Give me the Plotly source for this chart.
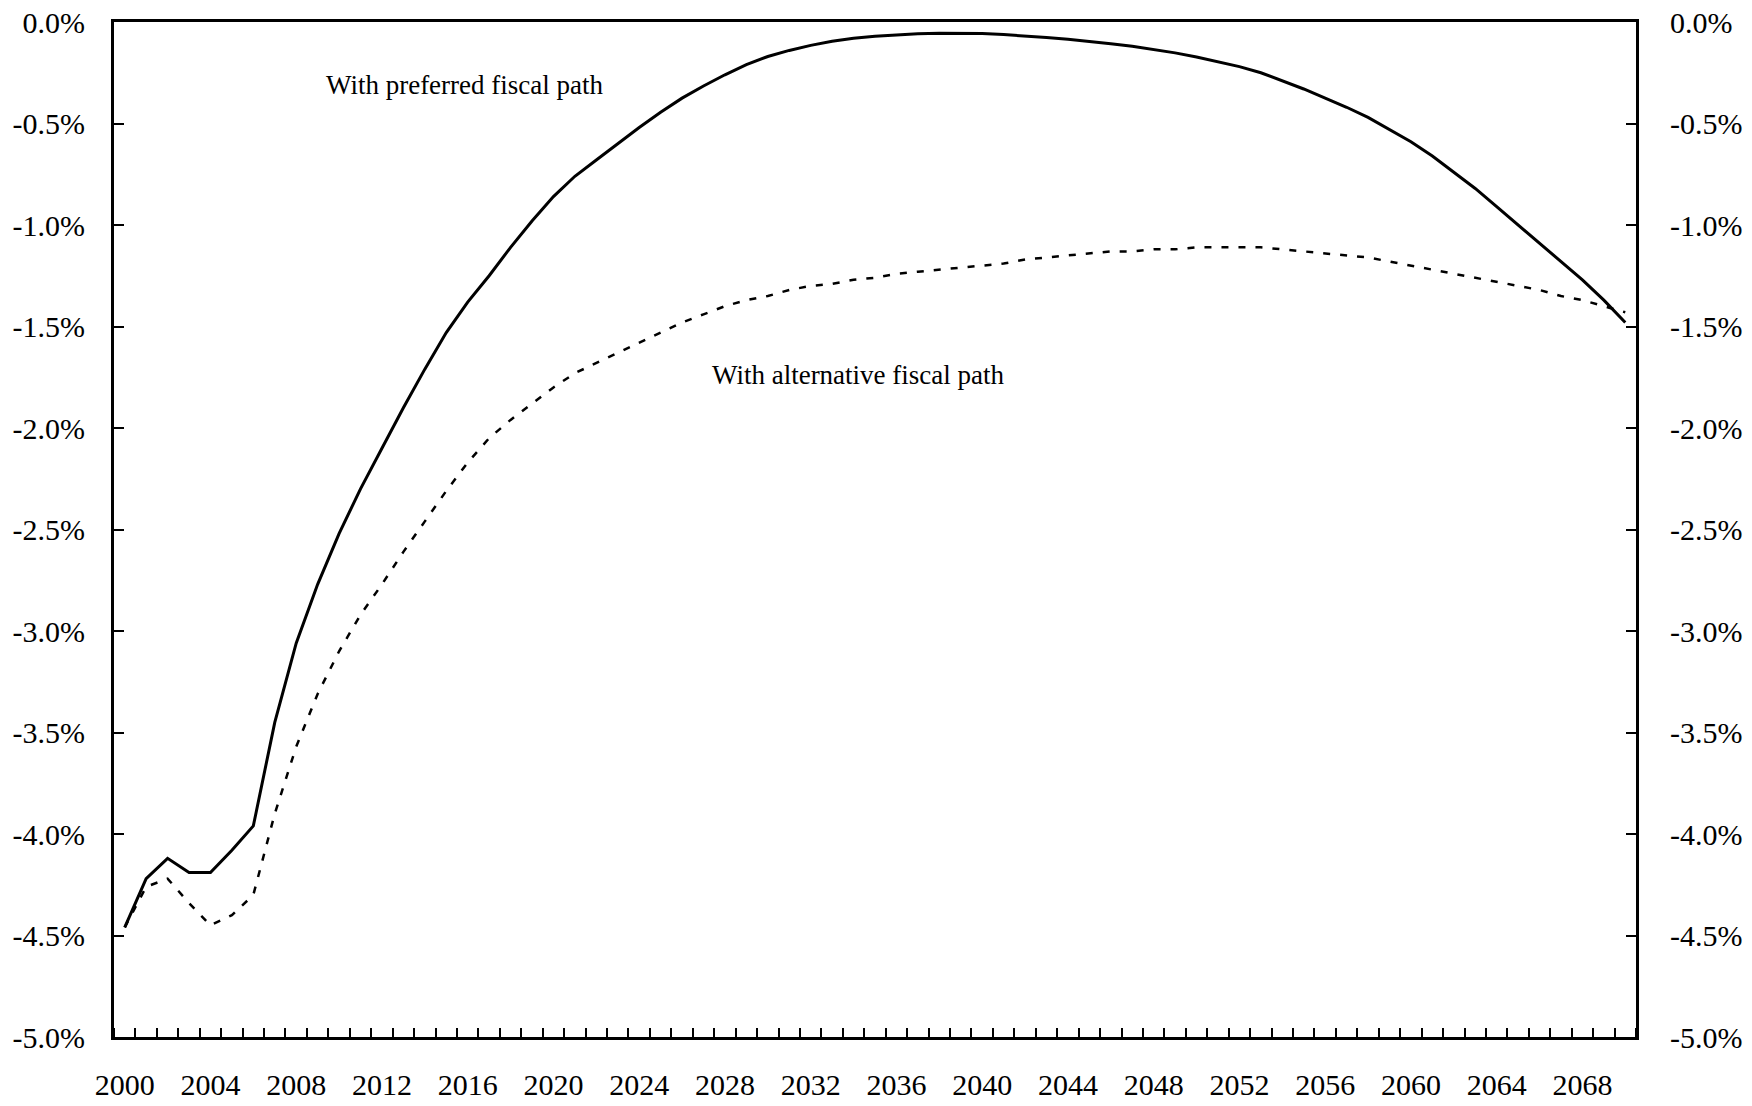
import plotly.graph_objects as go

# Years on the category axis
years = list(range(2000, 2071))

# Percent values, one per year
preferred_path = [
    -4.46, -4.22, -4.12, -4.19, -4.19, -4.08, -3.96, -3.45, -3.06, -2.77,
    -2.52, -2.30, -2.10, -1.90, -1.71, -1.53, -1.38, -1.25, -1.11, -0.98,
    -0.86, -0.76, -0.68, -0.60, -0.52, -0.445, -0.375, -0.315, -0.26, -0.21,
    -0.17, -0.14, -0.115, -0.095, -0.08, -0.07, -0.063, -0.058, -0.055, -0.055,
    -0.057, -0.062, -0.068, -0.076, -0.085, -0.095, -0.107, -0.12, -0.135, -0.152,
    -0.172, -0.195, -0.22, -0.25, -0.29, -0.33, -0.375, -0.42, -0.47, -0.53,
    -0.59, -0.66, -0.74, -0.82, -0.91, -1.00, -1.09, -1.18, -1.27, -1.37,
    -1.48,
]

alternative_path = [
    -4.46, -4.26, -4.22, -4.34, -4.45, -4.40, -4.30, -3.90, -3.57, -3.31,
    -3.10, -2.92, -2.77, -2.61, -2.46, -2.31, -2.17, -2.05, -1.96, -1.88,
    -1.80, -1.73, -1.68, -1.63, -1.58, -1.53, -1.48, -1.44, -1.40, -1.37,
    -1.35, -1.32, -1.30, -1.29, -1.27, -1.26, -1.24, -1.23, -1.22, -1.21,
    -1.20, -1.19, -1.17, -1.16, -1.15, -1.14, -1.13, -1.13, -1.12, -1.12,
    -1.11, -1.11, -1.11, -1.11, -1.12, -1.13, -1.14, -1.15, -1.16, -1.18,
    -1.20, -1.22, -1.24, -1.26, -1.28, -1.30, -1.32, -1.35, -1.37, -1.40,
    -1.43,
]

# Axis labels
x_label_years = list(range(2000, 2069, 4))
y_tick_values = [0.0, -0.5, -1.0, -1.5, -2.0, -2.5, -3.0, -3.5, -4.0, -4.5, -5.0]
y_tick_text = ["0.0%", "-0.5%", "-1.0%", "-1.5%", "-2.0%", "-2.5%",
               "-3.0%", "-3.5%", "-4.0%", "-4.5%", "-5.0%"]

FONT = "Liberation Serif, Times New Roman, serif"

fig = go.Figure()

fig.add_trace(go.Scatter(
    x=years, y=preferred_path, mode="lines",
    line=dict(color="black", width=3),
    name="With preferred fiscal path", hoverinfo="skip",
))
fig.add_trace(go.Scatter(
    x=years, y=alternative_path, mode="lines", yaxis="y2",
    line=dict(color="black", width=2.5, dash="7px,10px"),
    name="With alternative fiscal path", hoverinfo="skip",
))

fig.add_annotation(
    x=2009.3, y=-0.31, xref="x", yref="y", text="With preferred fiscal path",
    showarrow=False, xanchor="left", yanchor="middle",
    font=dict(family=FONT, size=27, color="black"),
)
fig.add_annotation(
    x=2027.3, y=-1.74, xref="x", yref="y", text="With alternative fiscal path",
    showarrow=False, xanchor="left", yanchor="middle",
    font=dict(family=FONT, size=27, color="black"),
)

fig.update_layout(
    width=1752, height=1106,
    margin=dict(l=114, r=116, t=22, b=69),
    paper_bgcolor="white", plot_bgcolor="white",
    showlegend=False,
    font=dict(family=FONT, size=30, color="black"),
    xaxis=dict(
        range=[1999.5, 2070.5], automargin=False,
        tickmode="array", tickvals=x_label_years,
        ticktext=[str(y) for y in x_label_years],
        ticks="", showgrid=False, zeroline=False,
        showline=True, linecolor="black", linewidth=3, mirror=True,
        ticklabelstandoff=19,
        tickfont=dict(family=FONT, size=30, color="black"),
        minor=dict(ticks="inside", tick0=1999.5, dtick=1, ticklen=9,
                   tickwidth=2, tickcolor="black", showgrid=False),
    ),
    yaxis=dict(
        range=[-5.0, 0.0], automargin=False,
        tickmode="array", tickvals=y_tick_values, ticktext=y_tick_text,
        ticks="inside", ticklen=10, tickwidth=2, tickcolor="black",
        showgrid=False, zeroline=False,
        showline=True, linecolor="black", linewidth=3,
        ticklabelstandoff=20,
        tickfont=dict(family=FONT, size=30, color="black"),
    ),
    yaxis2=dict(
        range=[-5.0, 0.0], overlaying="y", side="right", automargin=False,
        tickmode="array", tickvals=y_tick_values, ticktext=y_tick_text,
        ticks="inside", ticklen=10, tickwidth=2, tickcolor="black",
        showgrid=False, zeroline=False,
        showline=True, linecolor="black", linewidth=3,
        ticklabelstandoff=25,
        tickfont=dict(family=FONT, size=30, color="black"),
    ),
)

fig.write_html("out.html")
